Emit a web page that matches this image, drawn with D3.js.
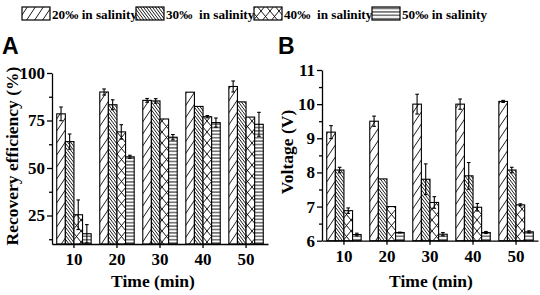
<!DOCTYPE html>
<html>
<head>
<meta charset="utf-8">
<script src="https://cdn.jsdelivr.net/npm/d3@7"></script>
<style>
  body { margin: 0; background: #fff; }
  svg text { font-family: "Liberation Serif", "Times New Roman", serif; font-weight: bold; fill: #000; }
</style>
</head>
<body>
<svg id="chart"></svg>
<script>
const width = 540, height = 295;

// Categories
const times = ["10", "20", "30", "40", "50"];
const salinities = ["20‰ in salinity", "30‰  in salinity", "40‰  in salinity", "50‰ in salinity"];

// Panel A: recovery efficiency (%)
const recovery20 = [78.5, 90.0, 85.6, 89.9, 92.9];
const recovery30 = [63.9, 83.3, 85.3, 82.4, 84.8];
const recovery40 = [25.4, 69.0, 75.8, 77.0, 76.8];
const recovery50 = [15.4, 55.9, 66.2, 73.9, 73.0];
const recoveryErr20 = [3.6, 1.6, 1.0, 0, 2.9];
const recoveryErr30 = [4.0, 2.6, 1.2, 0, 0];
const recoveryErr40 = [7.8, 3.8, 0, 0.6, 0];
const recoveryErr50 = [4.8, 0.8, 1.4, 2.4, 6.3];

// Panel B: voltage (V)
const voltage20 = [9.18, 9.50, 10.00, 10.00, 10.08];
const voltage30 = [8.07, 7.81, 7.80, 7.90, 8.07];
const voltage40 = [6.88, 7.00, 7.12, 6.98, 7.05];
const voltage50 = [6.18, 6.24, 6.19, 6.24, 6.26];
const voltageErr20 = [0.19, 0.15, 0.29, 0.15, 0.03];
const voltageErr30 = [0.08, 0, 0.45, 0.39, 0.08];
const voltageErr40 = [0.08, 0, 0.17, 0.11, 0.03];
const voltageErr50 = [0.04, 0.01, 0.05, 0.03, 0.03];

const serif = "'Liberation Serif', 'Times New Roman', serif";

const svg = d3.select("#chart")
    .attr("width", width)
    .attr("height", height)
    .attr("viewBox", [0, 0, width, height]);

// Hatch patterns, one per salinity
const defs = svg.append("defs");
const hatches = [
    { w: 8, h: 12, d: "M-8,24 L16,-12 M-8,12 L8,-12 M0,24 L16,0" },
    { w: 3, h: 4, d: "M-3,-4 L6,8 M0,-4 L6,4 M-3,0 L3,8" },
    { w: 9, h: 11, d: "M-9,-11 L18,22 M-9,22 L18,-11 M0,-11 L18,11 M-9,0 L9,22 M-9,11 L9,-11 M0,22 L18,0" },
    { w: 4, h: 3.4, d: "M-1,1.7 L5,1.7" }
];
hatches.forEach((p, i) => {
    const pat = defs.append("pattern")
        .attr("id", "hatch" + i)
        .attr("patternUnits", "userSpaceOnUse")
        .attr("width", p.w)
        .attr("height", p.h);
    pat.append("rect").attr("width", p.w).attr("height", p.h).attr("fill", "#fff");
    pat.append("path").attr("d", p.d).attr("stroke", "#000").attr("stroke-width", 0.9).attr("fill", "none");
});

// Legend
const legendX = [22, 136, 254, 372];
const legendTextX = [52, 166, 284, 402];
const legend = svg.append("g").attr("class", "legend");
salinities.forEach((s, i) => {
    legend.append("rect")
        .attr("x", legendX[i]).attr("y", 7)
        .attr("width", 28).attr("height", 13)
        .attr("fill", `url(#hatch${i})`)
        .attr("stroke", "#000").attr("stroke-width", 1.2);
    legend.append("text")
        .attr("x", legendTextX[i]).attr("y", 18.5)
        .style("white-space", "pre")
        .attr("font-size", 13.2)
        .text(s);
});

function drawPanel(cfg) {
    const g = svg.append("g");

    const x = d3.scaleBand().domain(times).range(cfg.xRange).paddingInner(0.2).paddingOuter(0.11);
    const xs = d3.scaleBand().domain(d3.range(4)).range([0, x.bandwidth()]);
    const y = d3.scaleLinear().domain(cfg.yDomain).range(cfg.yRange);

    const rows = [];
    cfg.series.forEach((vals, si) => {
        vals.forEach((v, ti) => rows.push({ t: times[ti], s: si, v: v, e: cfg.errors[si][ti] }));
    });

    // Bars
    g.selectAll("rect.bar")
        .data(rows)
        .join("rect")
        .attr("class", "bar")
        .attr("x", d => x(d.t) + xs(d.s))
        .attr("y", d => y(d.v))
        .attr("width", xs.bandwidth())
        .attr("height", d => y(cfg.yDomain[0]) - y(d.v))
        .attr("fill", d => `url(#hatch${d.s})`)
        .attr("stroke", "#000")
        .attr("stroke-width", 1.1);

    // Error bars
    const errs = g.append("g").attr("stroke", "#000").attr("stroke-width", 1.1);
    rows.filter(d => d.e > 0).forEach(d => {
        const cx = x(d.t) + xs(d.s) + xs.bandwidth() / 2;
        const top = y(d.v + d.e), bot = y(d.v - d.e);
        errs.append("line").attr("x1", cx).attr("x2", cx).attr("y1", top).attr("y2", bot);
        errs.append("line").attr("x1", cx - 1.8).attr("x2", cx + 1.8).attr("y1", top).attr("y2", top);
        errs.append("line").attr("x1", cx - 1.8).attr("x2", cx + 1.8).attr("y1", bot).attr("y2", bot);
    });

    // Axes
    g.append("g")
        .attr("transform", `translate(${cfg.xRange[0]},0)`)
        .call(d3.axisLeft(y).tickValues(cfg.yTicks).tickSize(5).tickSizeOuter(0).tickPadding(2).tickFormat(d3.format("d")));
    g.append("g")
        .attr("transform", `translate(${cfg.xRange[0]},0)`)
        .call(d3.axisLeft(y).tickValues(cfg.yMinor).tickSize(3).tickFormat(""))
        .call(a => a.select(".domain").remove());
    g.append("g")
        .attr("transform", `translate(0,${cfg.yRange[0]})`)
        .call(d3.axisBottom(x).tickSize(4).tickSizeOuter(0).tickPadding(5));

    g.selectAll(".domain, .tick line").attr("stroke", "#000").attr("stroke-width", 1.3);
    g.selectAll(".tick text")
        .style("font-family", serif)
        .style("font-weight", "bold")
        .style("font-size", "17px")
        .attr("fill", "#000");

    // Titles
    g.append("text")
        .attr("x", (cfg.xRange[0] + cfg.xRange[1]) / 2 + cfg.xTitleShift)
        .attr("y", 287)
        .attr("text-anchor", "middle")
        .attr("font-size", 17.5)
        .text("Time (min)");
    g.append("text")
        .attr("transform", `translate(${cfg.yTitleX},${cfg.yTitleY}) rotate(-90)`)
        .attr("text-anchor", "middle")
        .attr("font-size", 17.5)
        .text(cfg.yTitle);
    g.append("text")
        .attr("x", cfg.letterX).attr("y", 54)
        .style("font-family", "'Liberation Sans', Arial, sans-serif")
        .attr("font-size", 23)
        .text(cfg.letter);
}

drawPanel({
    letter: "A", letterX: 2,
    xRange: [52, 268], yDomain: [10, 100], yRange: [244, 73],
    yTicks: [25, 50, 75, 100], yMinor: [12.5, 37.5, 62.5, 87.5],
    series: [recovery20, recovery30, recovery40, recovery50],
    errors: [recoveryErr20, recoveryErr30, recoveryErr40, recoveryErr50],
    yTitle: "Recovery efficiency (%)", yTitleX: 18, yTitleY: 156, xTitleShift: -7
});

drawPanel({
    letter: "B", letterX: 278,
    xRange: [322, 538], yDomain: [6, 11], yRange: [240.7, 70],
    yTicks: [6, 7, 8, 9, 10, 11], yMinor: [6.5, 7.5, 8.5, 9.5, 10.5],
    series: [voltage20, voltage30, voltage40, voltage50],
    errors: [voltageErr20, voltageErr30, voltageErr40, voltageErr50],
    yTitle: "Voltage (V)", yTitleX: 293, yTitleY: 152, xTitleShift: 1
});
</script>
</body>
</html>
